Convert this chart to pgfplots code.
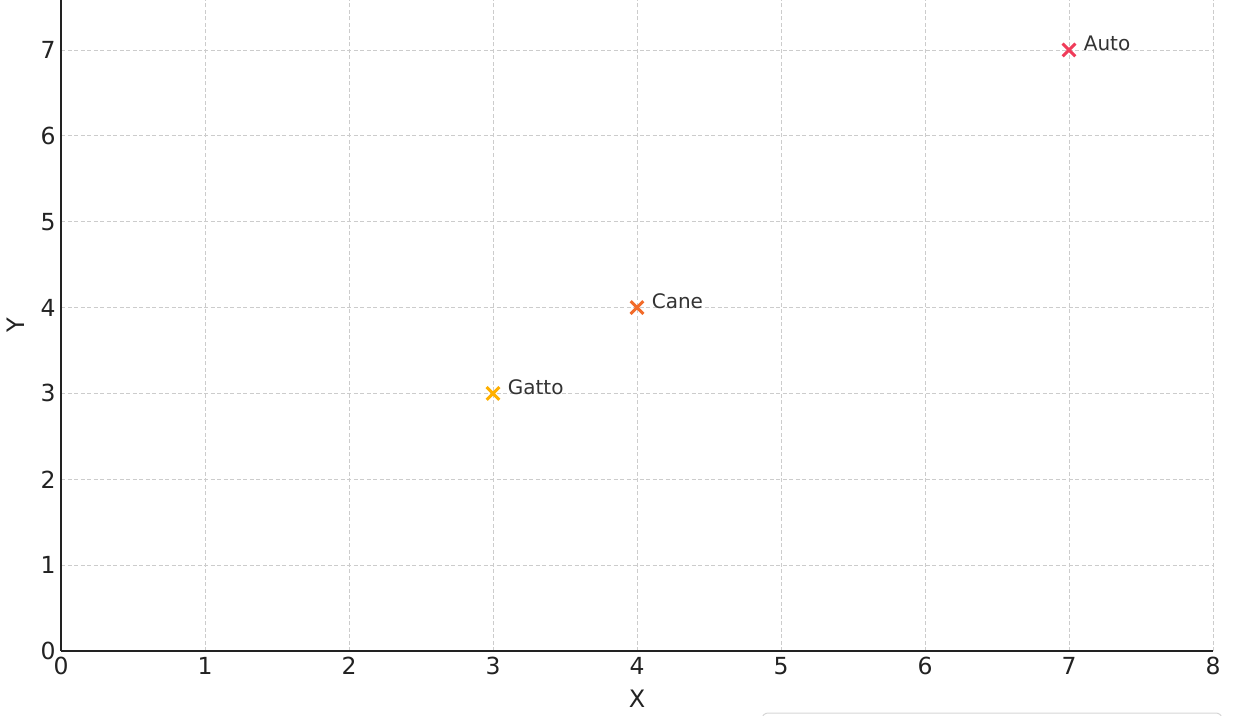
\documentclass[border=0pt]{standalone}
\usepackage{pgfplots}
\pgfplotsset{compat=1.18}
\usepackage{fontspec}
\setmainfont{DejaVu Sans}
\definecolor{cgatto}{HTML}{FFB000}
\definecolor{ccane}{HTML}{F26B2A}
\definecolor{cauto}{HTML}{F03C5A}
\definecolor{gridc}{HTML}{CCCCCC}
\definecolor{txt}{HTML}{333333}
\definecolor{axc}{HTML}{222222}
\begin{document}
\begin{tikzpicture}
\begin{axis}[
  name=ax,
  scale only axis,
  width=1152pt, height=651pt,
  xmin=0, xmax=8, ymin=0, ymax=7.582,
  xtick={0,1,...,8}, ytick={0,1,...,7},
  axis lines*=left,
  axis line style={line width=1.6pt, color=axc, -},
  major tick length=0pt,
  grid=major,
  major grid style={dashed, dash pattern=on 4pt off 2.5pt, line width=0.9pt, color=gridc},
  tick label style={font=\fontsize{23.5}{26}\selectfont, color=axc},
  /pgf/number format/assume math mode=true,
  xticklabel style={yshift=-3pt},
  yticklabel style={xshift=-2pt},
  xlabel={X}, ylabel={Y},
  label style={font=\fontsize{24}{26}\selectfont, color=axc},
  xlabel style={yshift=-10pt, inner sep=1pt},
  ylabel style={yshift=9pt},
  clip=false,
  nodes near coords,
  point meta=explicit symbolic,
  every node near coord/.append style={font=\fontsize{20}{22}\selectfont, color=txt, anchor=base west, xshift=10pt, yshift=-1pt},
]
\addplot[only marks, mark=x, color=cgatto, mark options={mark size=9pt, line width=3pt}] coordinates {(3,3) [Gatto]};
\addplot[only marks, mark=x, color=ccane, mark options={mark size=9pt, line width=3pt}] coordinates {(4,4) [Cane]};
\addplot[only marks, mark=x, color=cauto, mark options={mark size=9pt, line width=3pt}] coordinates {(7,7) [Auto]};
\end{axis}
\draw[gridc!80, line width=1pt, rounded corners=6pt] ([shift={(701pt,-62pt)}]ax.south west) rectangle ([shift={(1161pt,-100pt)}]ax.south west);
\pgfresetboundingbox
\path[use as bounding box] ([shift={(-61pt,-64pt)}]ax.south west) rectangle ([shift={(21pt,0pt)}]ax.north east);
\end{tikzpicture}
\end{document}
